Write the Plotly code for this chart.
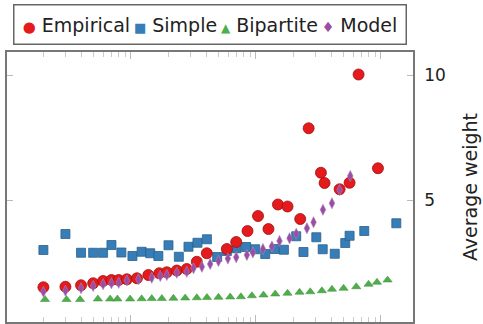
import plotly.graph_objects as go

# ---- data ----
emp_x = [2, 3, 4, 5, 6, 7, 8, 9.3, 11.2, 13.8, 16.9, 19.4, 23.3, 28, 33.7, 40.5, 58.6, 69.6,
         85.7, 104, 126, 150, 179, 226, 264, 331, 354, 467, 561, 662, 946]
emp_y = [1.51, 1.53, 1.59, 1.67, 1.76, 1.80, 1.80, 1.83, 1.87, 2.00, 2.07, 2.11, 2.18, 2.24,
         2.53, 2.87, 3.04, 3.32, 3.76, 4.36, 3.84, 4.82, 4.74, 4.24, 7.87, 6.09, 5.68, 5.43,
         5.69, 10.02, 6.27]

simple_x = [2, 3, 4, 5, 6, 7, 8.4, 10.3, 12.2, 14.3, 16.6, 20, 24.2, 28.9, 34.1, 40.6, 49,
            58.6, 70, 83.6, 98.7, 118.7, 141.4, 167.5, 210, 240, 304, 342, 427, 518, 561, 735, 1326]
simple_y = [3.00, 3.64, 2.89, 2.89, 2.89, 3.20, 2.90, 2.76, 2.93, 2.87, 2.76, 3.19, 2.73, 3.13,
            3.29, 3.43, 2.72, 2.96, 3.07, 3.12, 3.03, 2.84, 3.04, 3.01, 3.55, 2.92, 3.51, 3.03,
            2.85, 3.28, 3.57, 3.76, 4.07]

bip_x = [2.06, 3.06, 3.93, 5.45, 6.83, 7.81, 9.87, 12.2, 14.7, 17.7, 21.9, 27.2, 33.7, 40.6,
         50.2, 62.3, 75.9, 92.9, 115, 142.7, 178.9, 223.3, 272, 337, 405.5, 502, 634.5, 795.6,
         929, 1129]
bip_y = [1.02, 1.02, 1.02, 1.04, 1.04, 1.04, 1.04, 1.05, 1.06, 1.06, 1.07, 1.08, 1.09, 1.10,
         1.11, 1.12, 1.13, 1.17, 1.20, 1.24, 1.27, 1.31, 1.33, 1.37, 1.43, 1.47, 1.53, 1.63,
         1.71, 1.80]

model_x = [2, 3, 4, 5, 6, 7, 8, 9.3, 11.5, 14.7, 17.2, 19.4, 23.3, 28, 31.7, 37, 43.1, 50.2,
           59.7, 69.6, 84.7, 94.6, 113.8, 134.3, 154.5, 185.7, 210.1, 255.9, 289, 343.6,
           405.5, 466.6, 568.2]
model_y = [1.33, 1.37, 1.47, 1.56, 1.63, 1.67, 1.69, 1.78, 1.83, 1.89, 1.96, 2.00, 2.09, 2.13,
           2.27, 2.33, 2.44, 2.56, 2.66, 2.71, 2.80, 2.90, 3.04, 3.14, 3.36, 3.47, 3.65, 3.87,
           4.11, 4.61, 4.87, 5.40, 5.96]

y_ticks = [5, 10]
y_title = "Average weight"
names = ["Empirical", "Simple", "Bipartite", "Model"]

RED, BLUE, GREEN, PURPLE = "#e41a1c", "#377eb8", "#4daf4a", "#984ea3"

fig = go.Figure()
fig.add_trace(go.Scatter(x=simple_x, y=simple_y, mode="markers", name=names[1],
                         marker=dict(symbol="square", size=9, color=BLUE,
                                     line=dict(color="#2a5f8c", width=0.8))))
fig.add_trace(go.Scatter(x=bip_x, y=bip_y, mode="markers", name=names[2],
                         marker=dict(symbol="triangle-up", size=8, color=GREEN,
                                     line=dict(color="#3d8c3a", width=0.5))))
fig.add_trace(go.Scatter(x=emp_x, y=emp_y, mode="markers", name=names[0],
                         marker=dict(symbol="circle", size=11, color=RED,
                                     line=dict(color="#a01010", width=0.8))))
fig.add_trace(go.Scatter(x=model_x, y=model_y, mode="markers", name=names[3],
                         marker=dict(symbol="diamond-tall", size=8, color=PURPLE,
                                     line=dict(color="#b080c0", width=0.6))))

TS = "\u2009"  # thin space
legend_text = (
    f'<span style="color:{RED};font-size:15px">●</span> {names[0]}{TS}'
    f'<span style="color:{BLUE};font-size:13px">■</span> {names[1]}{TS}'
    f'<span style="color:{GREEN};font-size:12px">▲</span> {names[2]}{TS}'
    f'<span style="color:{PURPLE};font-size:14px">♦</span> {names[3]}'
)
fig.add_annotation(text=legend_text, xref="paper", yref="paper", x=0.5, y=1.1037,
                   xanchor="center", yanchor="middle", showarrow=False,
                   font=dict(family="DejaVu Sans", size=19, color="#222"),
                   bordercolor="#666", borderwidth=1.5, borderpad=5, bgcolor="white",
                   width=381, height=28)

minor_vals = [m * d for d in (1, 10, 100, 1000) for m in range(2, 10)]

fig.update_xaxes(type="log", range=[0.01, 3.256], showgrid=False, zeroline=False,
                 showline=True, linecolor="#777", linewidth=1.5, mirror="ticks",
                 tickmode="array", tickvals=[1, 10, 100, 1000], showticklabels=False,
                 ticks="inside", ticklen=7, tickcolor="#bbb", tickwidth=1,
                 minor=dict(tickmode="array", tickvals=minor_vals, ticks="inside",
                            ticklen=5, tickcolor="#ccc", tickwidth=1))
fig.update_yaxes(side="right", range=[0.12, 10.92], showgrid=False, zeroline=False,
                 showline=True, linecolor="#777", linewidth=1.5, mirror="ticks",
                 tickmode="array", tickvals=y_ticks, ticks="inside", ticklen=6,
                 tickcolor="#bbb", tickfont=dict(family="DejaVu Sans", size=17, color="#222"),
                 ticklabelstandoff=6,
                 title=dict(text=y_title, standoff=19,
                            font=dict(family="DejaVu Sans", size=19, color="#222")))

fig.update_layout(width=483, height=324, showlegend=False,
                  margin=dict(l=7, r=70, t=52, b=2),
                  paper_bgcolor="white", plot_bgcolor="white")

fig.write_html("out.html", config={"displayModeBar": False},
               post_script="document.body.style.margin='0';")
